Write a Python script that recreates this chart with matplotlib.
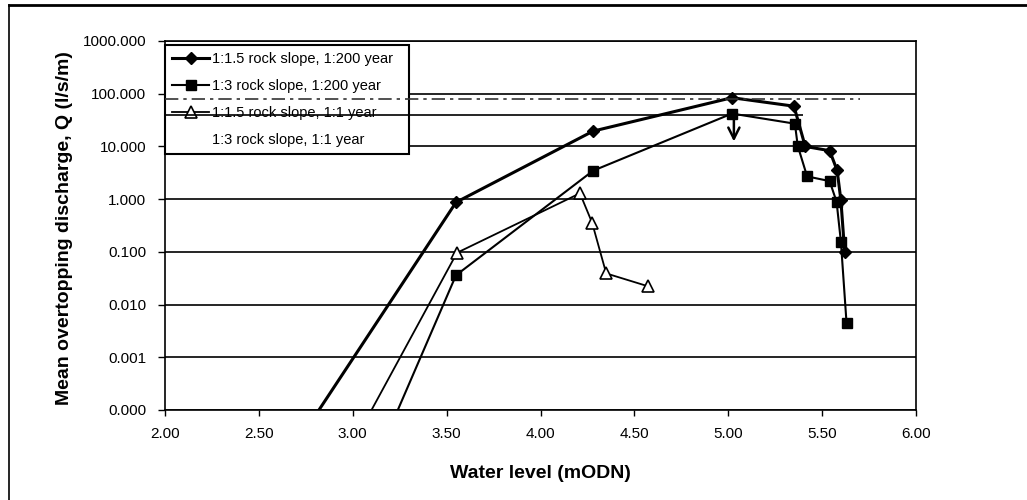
import matplotlib
matplotlib.use('Agg')
import matplotlib.pyplot as plt
from matplotlib.lines import Line2D
from matplotlib.ticker import NullLocator

plt.rcParams['font.family'] = ['Liberation Sans', 'DejaVu Sans']

# series (water level mODN, discharge l/s/m)
# first point of each series is where the line meets the bottom of the axis
x_15_200 = [2.82, 3.55, 4.28, 5.02, 5.35, 5.41, 5.54, 5.58, 5.60, 5.62]
q_15_200 = [0.0001, 0.87, 19.5, 84, 58, 10.0, 8.3, 3.5, 0.95, 0.10]

x_3_200 = [3.24, 3.55, 4.28, 5.02, 5.355, 5.37, 5.42, 5.54, 5.577, 5.60, 5.63]
q_3_200 = [0.0001, 0.036, 3.46, 42, 27, 10.3, 2.7, 2.2, 0.89, 0.156, 0.0045]

x_15_1 = [3.10, 3.555, 4.21, 4.275, 4.35, 4.57]
q_15_1 = [0.0001, 0.096, 1.29, 0.356, 0.039, 0.0224]

labels = ['1:1.5 rock slope, 1:200 year', '1:3 rock slope, 1:200 year',
          '1:1.5 rock slope, 1:1 year', '1:3 rock slope, 1:1 year']

# stray horizontal lines on the scan (level, x end)
ref_dashed = (79, 5.70)
ref_solid = (39.5, 5.40)

y_ticks = [0.0001, 0.001, 0.01, 0.1, 1, 10, 100, 1000]
x_ticks = [2.0, 2.5, 3.0, 3.5, 4.0, 4.5, 5.0, 5.5, 6.0]

fig = plt.figure(figsize=(10.27, 5.0), dpi=100)
ax = fig.add_axes([165/1027, 1-410/500, (916-165)/1027, (410-41)/500])

ax.set_yscale('log')
ax.set_ylim(1e-4, 1e3)
ax.set_xlim(2, 6)
ax.set_yticks(y_ticks)
ax.set_yticklabels(['{:.3f}'.format(v) for v in y_ticks])
ax.set_xticks(x_ticks)
ax.set_xticklabels(['{:.2f}'.format(v) for v in x_ticks])
ax.yaxis.set_minor_locator(NullLocator())
ax.tick_params(axis='y', length=5, width=1, pad=8.5, labelsize=11)
ax.tick_params(axis='x', length=4, width=1, pad=8.5, labelsize=11)
ax.yaxis.grid(True, color='black', lw=1.2)
ax.set_axisbelow(True)
for s in ax.spines.values():
    s.set_color('black')
    s.set_linewidth(1.2)

# these cross the legend on the scan, so draw them above it
ax.hlines(ref_dashed[0], 2, ref_dashed[1], colors='#333333', lw=1.2,
          linestyles=(0, (8, 3, 2, 3)), zorder=6)
ax.hlines(ref_solid[0], 2, ref_solid[1], colors='black', lw=1.2, zorder=6)

ax.plot(x_15_200, q_15_200, color='black', lw=2.2, marker='D', ms=6,
        markevery=list(range(1, len(x_15_200))), label=labels[0])
ax.plot(x_3_200, q_3_200, color='black', lw=1.5, marker='s', ms=7,
        markevery=list(range(1, len(x_3_200))), label=labels[1])
ax.plot(x_15_1, q_15_1, color='black', lw=1.3, marker='^', ms=8, mfc='white', mew=1.2,
        markevery=list(range(1, len(x_15_1))), label=labels[2])
ax.plot([], [], color='none', label=labels[3])

ax.annotate('', xy=(5.03, 11), xytext=(5.03, 38),
            arrowprops=dict(arrowstyle='->,head_length=0.8,head_width=0.4', lw=1.8, color='black'))

leg_h = (152 - 45) / 369
leg = ax.legend(loc='upper left', bbox_to_anchor=(0.0, 0.989 - leg_h, 244/751, leg_h),
                mode='expand', borderaxespad=0,
                fontsize=10.5, frameon=True, fancybox=False, handlelength=2.5,
                handletextpad=0.2, labelspacing=0.88, borderpad=0.5)
leg.get_frame().set_edgecolor('black')
leg.get_frame().set_linewidth(1.5)
leg.get_frame().set_alpha(1)

fig.text(540/1027, 1-473/500, 'Water level (mODN)', ha='center', va='center',
         fontsize=14, fontweight='bold')
fig.text(65/1027, 1-228/500, 'Mean overtopping discharge, Q (l/s/m)', ha='center', va='center',
         rotation=90, fontsize=14, fontweight='bold')

# page frame from the scan
fig.add_artist(Line2D([9/1027, 9/1027], [0, 1-5/500], transform=fig.transFigure, color='black', lw=1.2))
fig.add_artist(Line2D([9/1027, 1], [1-5/500, 1-5/500], transform=fig.transFigure, color='black', lw=2))

fig.savefig('out.png', dpi=100)
